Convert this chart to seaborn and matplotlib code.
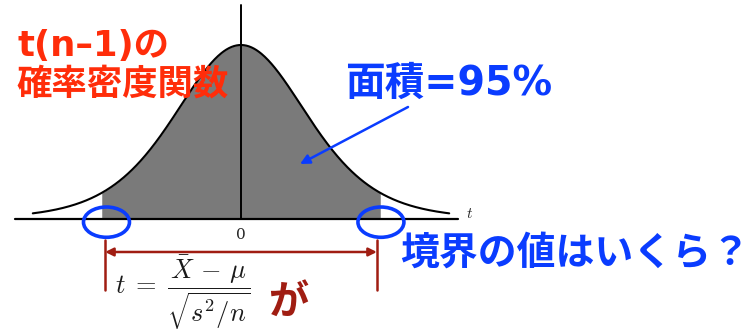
import math

import numpy as np
import matplotlib
matplotlib.use("Agg")
import matplotlib.pyplot as plt
from matplotlib.patches import Ellipse
import seaborn as sns

# --- data ---
DF = 7                 # degrees of freedom that give the drawn shape
T_RANGE = 3.08         # curve drawn from -T_RANGE to +T_RANGE
BOUNDARY = 2.06        # edge of the shaded 95% area
AXIS_LEFT, AXIS_RIGHT = -3.34, 3.21
AXIS_TOP = 0.473
ZERO_LABEL = "0"
AXIS_LABEL = "$t$"
TITLE_LINES = ["t(n–1)の", "確率密度関数"]
AREA_LABEL = "面積=95%"
QUESTION = "境界の値はいくら？"
FORMULA = r"$t\;=\;\dfrac{\bar{X}\,-\,\mu}{\sqrt{s^2/n}}$"
PARTICLE = "が"

RED = "#ff2d0a"
BLUE = "#0a3cff"
DARK_RED = "#a01d12"
SHADE = "#7a7a7a"

W, H = 755, 336
CENTER_PX, BASE_PX, PEAK_PX = 241, 219, 45
PX_PER_T = 67.6
LABEL_FONT = ["DejaVu Sans", "Noto Sans CJK JP"]


def t_pdf(x, df):
    c = math.gamma((df + 1) / 2) / (math.sqrt(df * math.pi) * math.gamma(df / 2))
    return c * (1 + x ** 2 / df) ** (-(df + 1) / 2)


def fx(px):
    return px / W


def fy(py):
    return 1 - py / H


sns.set_theme(style="white")
plt.rcParams["font.family"] = ["Noto Sans CJK JP", "DejaVu Sans"]
plt.rcParams["mathtext.fontset"] = "cm"

t_vals = np.linspace(-T_RANGE, T_RANGE, 500)
density = t_pdf(t_vals, DF)
t_fill = np.linspace(-BOUNDARY, BOUNDARY, 400)

fig = plt.figure(figsize=(W / 100, H / 100), dpi=100)
ax = fig.add_axes([0, 0, 1, 1])
ax.set_axis_off()

px_per_y = (BASE_PX - PEAK_PX) / t_pdf(0.0, DF)
ax.set_xlim(-CENTER_PX / PX_PER_T, (W - CENTER_PX) / PX_PER_T)
ax.set_ylim(-(H - BASE_PX) / px_per_y, BASE_PX / px_per_y)

ax.fill_between(t_fill, t_pdf(t_fill, DF), 0, color=SHADE, lw=0, zorder=1)
sns.lineplot(x=t_vals, y=density, ax=ax, color="black", lw=1.5, zorder=3)
ax.plot([AXIS_LEFT, AXIS_RIGHT], [0, 0], color="black", lw=1.6, zorder=3)
ax.plot([0, 0], [0, AXIS_TOP], color="black", lw=1.4, zorder=3)

ax.text(AXIS_RIGHT + 0.12, 0.013, AXIS_LABEL, fontsize=11, ha="left", va="center")
ax.text(0, -0.036, ZERO_LABEL, fontsize=11, ha="center", va="center",
        family="DejaVu Serif")

# blue rings round the two boundaries, dark red bracket below
for side in (-1, 1):
    ax.add_patch(Ellipse((side * 2.03 + 0.04, -0.007), 0.68, 0.067, fill=False,
                         ec=BLUE, lw=2.6, zorder=4))
    ax.plot([side * 2.01, side * 2.01], [-0.047, -0.156], color=DARK_RED, lw=1.8)

ax.annotate("", xy=(-2.01, -0.073), xytext=(2.01, -0.073),
            arrowprops=dict(arrowstyle="<|-|>", color=DARK_RED, lw=1.8,
                            shrinkA=0, shrinkB=0, mutation_scale=12))

# arrow from the area label into the shaded region
ax.annotate("", xy=((300 - CENTER_PX) / PX_PER_T, (BASE_PX - 164) / px_per_y),
            xytext=((408 - CENTER_PX) / PX_PER_T, (BASE_PX - 107) / px_per_y),
            arrowprops=dict(arrowstyle="-|>", color=BLUE, lw=1.8,
                            shrinkA=0, shrinkB=0, mutation_scale=14))

fig.text(fx(17), fy(46), TITLE_LINES[0], color=RED, fontsize=25.5,
         fontweight="bold", ha="left", va="center", family=LABEL_FONT)
fig.text(fx(16), fy(85), TITLE_LINES[1], color=RED, fontsize=25.5,
         fontweight="bold", ha="left", va="center", family=LABEL_FONT)
fig.text(fx(345), fy(84), AREA_LABEL, color=BLUE, fontsize=28.5,
         fontweight="bold", ha="left", va="center", family=LABEL_FONT)
fig.text(fx(400), fy(254), QUESTION, color=BLUE, fontsize=28,
         fontweight="bold", ha="left", va="center", family=LABEL_FONT)
fig.text(fx(115), fy(293), FORMULA, color="#1a1a1a", fontsize=19,
         ha="left", va="center")
fig.text(fx(268), fy(302), PARTICLE, color=DARK_RED, fontsize=29,
         fontweight="bold", ha="left", va="center")

fig.savefig("out.png", dpi=100)
